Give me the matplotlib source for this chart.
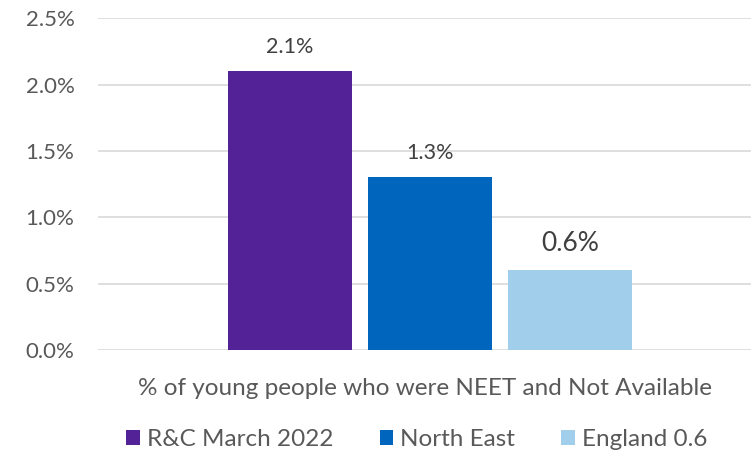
import matplotlib
matplotlib.use("Agg")
import matplotlib.pyplot as plt
from matplotlib.ticker import FuncFormatter

# data
series = ["R&C March 2022", "North East", "England 0.6"]
values = [2.1, 1.3, 0.6]
labels = ["2.1%", "1.3%", "0.6%"]
colors = ["#522296", "#0066BD", "#A1CFEB"]
category = "% of young people who were NEET and Not Available"
yticks = [0.0, 0.5, 1.0, 1.5, 2.0, 2.5]

plt.rcParams["font.family"] = ["Lato", "DejaVu Sans"]

fig = plt.figure(figsize=(7.51, 4.54), dpi=100)
ax = fig.add_axes([0.1305, 0.229, 0.8695, 0.731])

width = 0.19
step = 0.2144
label_sizes = [15.5, 15.5, 19]
for i, (name, v, lab, c) in enumerate(zip(series, values, labels, colors)):
    x = (i - 1) * step
    ax.bar(x, v, width=width, color=c, label=name, zorder=3)
    ax.text(x, v + 0.11, lab, ha="center", va="bottom",
            fontsize=label_sizes[i], color="#404040")

ax.set_xlim(-0.508, 0.492)
ax.set_ylim(0, 2.5)
ax.set_yticks(yticks)
ax.yaxis.set_major_formatter(FuncFormatter(lambda v, p: f"{v:.1f}%"))
ax.set_xticks([-0.008])
ax.set_xticklabels([category])
ax.tick_params(axis="y", length=0, pad=17, labelsize=16, labelcolor="#595959")
ax.tick_params(axis="x", length=0, pad=20, labelsize=17.5, labelcolor="#595959")
ax.grid(axis="y", color="#D9D9D9", linewidth=1.2, zorder=0)
for s in ax.spines.values():
    s.set_visible(False)

leg = fig.legend(loc="lower center", bbox_to_anchor=(0.555, -0.04), ncol=3,
                 frameon=False, fontsize=17.5, handlelength=0.55, handleheight=0.55,
                 columnspacing=1.9, handletextpad=0.3)
for t in leg.get_texts():
    t.set_color("#595959")

fig.savefig("out.png", dpi=100)
